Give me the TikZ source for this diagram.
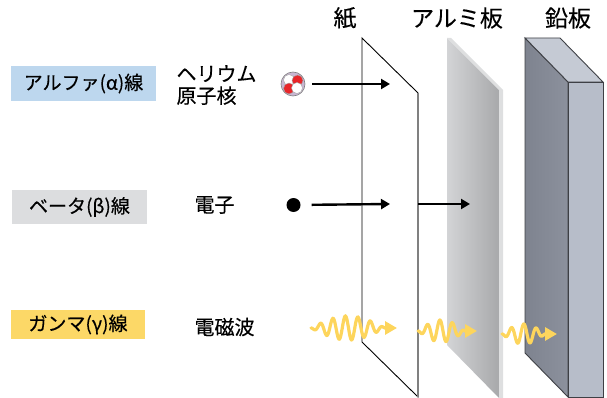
\documentclass[tikz,border=0pt]{standalone}
\usepackage{fontspec}
\setmainfont{Noto Sans CJK JP}[FakeBold=0.35]
\usetikzlibrary{arrows.meta}

\definecolor{alphabg}{HTML}{BDD7EE}
\definecolor{betabg}{HTML}{DCDDDF}
\definecolor{gammabg}{HTML}{FCD867}
\definecolor{wavecol}{HTML}{FDD55C}
\definecolor{nucred}{HTML}{E8262A}
\definecolor{heshell}{HTML}{C9B6D2}
\definecolor{alulight}{HTML}{D3D4D6}
\definecolor{aludark}{HTML}{A8A9AB}
\definecolor{aluedge}{HTML}{DEDFE0}
\definecolor{leadside}{HTML}{7E838F}
\definecolor{leadside2}{HTML}{8C919D}
\definecolor{leadfront}{HTML}{B7BDC9}
\definecolor{leadtop}{HTML}{C5CAD4}
\definecolor{leadline}{HTML}{3E4045}

\tikzset{
  head/.style={font=\fontsize{23}{26}\selectfont},
  ray/.style={font=\fontsize{19}{22}\selectfont, inner sep=0pt},
  particle/.style={font=\fontsize{20}{25}\selectfont, align=left, anchor=west},
  beam/.style={line width=2.4pt, -{Triangle[length=9pt,width=10pt]}},
  wave/.style={wavecol, line width=3.2pt, line cap=round, -{Triangle[length=12pt,width=13pt]}},
}

\begin{document}
\begin{tikzpicture}[x=1pt,y=-1pt]
  \useasboundingbox (0,0) rectangle (607,398);

  % shields
  \draw[fill=white, line width=0.9pt] (362,38) -- (418,93) -- (418,397) -- (362,342) -- cycle;
  \draw[gray, line width=1.5pt] (418,93) -- (418,397);

  \shade[left color=alulight, right color=aludark] (447,38) -- (499,90) -- (499,398) -- (447,345) -- cycle;
  \fill[aluedge] (447,38) -- (451,38) -- (503,90) -- (503,398) -- (499,398) -- (499,90) -- cycle;

  \shade[left color=leadside, right color=leadside2, draw=leadline, line width=0.9pt]
    (525,38) -- (568,82) -- (568,397) -- (525,353) -- cycle;
  \fill[leadtop, draw=leadline, line width=0.9pt] (525,38) -- (560,38) -- (603,82) -- (568,82) -- cycle;
  \fill[leadfront, draw=leadline, line width=0.9pt] (568,82) rectangle (603,397);

  \node[head] (paper) at (345,18) {紙};
  \node[head] (alu) at (457,18) {アルミ板};
  \node[head] (lead) at (568,18) {鉛板};

  % ray names
  \node[ray, fill=alphabg, minimum width=145pt, minimum height=35pt] (alpha) at (83.5,83.5) {アルファ(α)線};
  \node[ray, fill=betabg, minimum width=135pt, minimum height=34pt] (beta) at (79.5,207) {ベータ(β)線};
  \node[ray, fill=gammabg, minimum width=134pt, minimum height=29pt] (gamma) at (78,324.5) {ガンマ(γ)線};

  \node[particle] (heName) at (173,85) {ヘリウム\\[-3pt]原子核};
  \node[particle] (eName) at (191,205) {電子};
  \node[particle] (emName) at (191,327) {電磁波};

  % helium nucleus
  \node[circle, fill=heshell, draw=gray, line width=0.6pt, minimum size=24pt, inner sep=0pt] (he) at (293,84) {};
  \foreach \dx/\dy/\c in {-4/-4/white, 4.5/-3.5/nucred, -4/4.5/nucred, 4/4/white}
    \fill[\c, draw=gray!70, line width=0.4pt] (293+\dx,84+\dy) circle (5.5);

  % electron
  \node[circle, fill=black, minimum size=14pt, inner sep=0pt] (el) at (293.5,205) {};

  \coordinate (tipA) at (390,84);
  \coordinate (tipB) at (390,204);
  \coordinate (backB) at (418,204);
  \coordinate (tipB2) at (470,204);

  \draw[beam, shorten <=7pt] (he) -- (tipA);
  \draw[beam, shorten <=11pt] (el) -- (tipB);
  \draw[beam] (backB) -- (tipB2);

  % gamma wave packets
  \foreach \xs/\ys/\len/\amp in {311/328/74/12, 418/331/47/11, 502/334/43/10}
    \draw[wave] plot[domain=0:\len, samples=160, smooth]
      ({\xs+\x},{\ys+\amp*sin(\x/\len*180)*sin(\x/12.5*360)}) -- ++(12,0);
\end{tikzpicture}
\end{document}
